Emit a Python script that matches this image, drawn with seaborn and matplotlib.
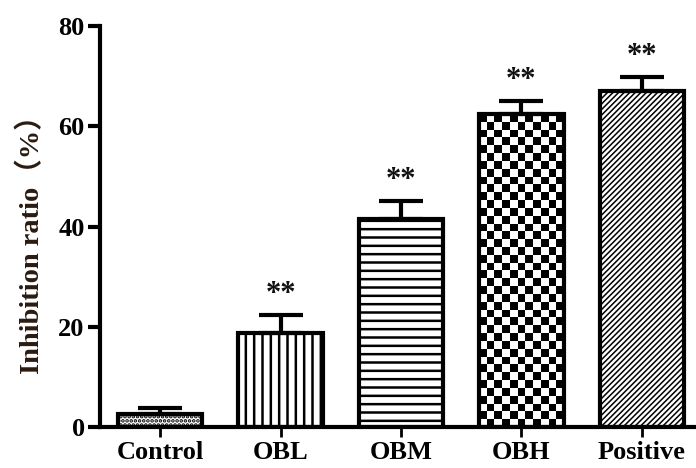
import numpy as np
import pandas as pd
import matplotlib
matplotlib.use("Agg")
import matplotlib.pyplot as plt
import seaborn as sns

groups = ["Control", "OBL", "OBM", "OBH", "Positive"]
values = [2.6, 18.8, 41.5, 62.4, 67.0]
errors = [1.2, 3.5, 3.6, 2.6, 2.9]
marks = ["", "**", "**", "**", "**"]
hatches = ["....", "||", "--", None, "//////"]
hatch_lw = [1.8, 1.8, 1.8, 1.8, 1.1]
yticks = [0, 20, 40, 60, 80]

sns.set_style("ticks")
plt.rcParams["font.family"] = ["Liberation Serif", "Noto Sans CJK SC"]
plt.rcParams["font.weight"] = "bold"
plt.rcParams["hatch.linewidth"] = 1.8
plt.rcParams["axes.edgecolor"] = "black"
plt.rcParams["xtick.color"] = "black"
plt.rcParams["ytick.color"] = "black"

df = pd.DataFrame({"group": groups, "value": values})

fig = plt.figure(figsize=(6.96, 4.68), dpi=100)
ax = fig.add_axes([100/696, 41/468, 596/696, 401/468])

sns.barplot(data=df, x="group", y="value", color="white", edgecolor="black",
            linewidth=3, width=0.7, errorbar=None, ax=ax, saturation=1)

patches = list(ax.patches)
for p, h, lw in zip(patches, hatches, hatch_lw):
    p.set_facecolor("white")
    if h:
        p.set_hatch(h)
        if hasattr(p, "set_hatch_linewidth"):
            p.set_hatch_linewidth(lw)

# checkerboard for OBH, clipped to its bar
p = patches[3]
x0, w = p.get_x(), p.get_width()
y0, hgt = p.get_y(), p.get_height()
nx, ny = 11, 40
board = (np.indices((ny, nx)).sum(axis=0) % 2).astype(float)
im = ax.imshow(board, cmap="gray", extent=[x0, x0 + w, y0, y0 + hgt],
               aspect="auto", interpolation="nearest", zorder=p.get_zorder() - 0.1)
im.set_clip_path(p)
p.set_zorder(p.get_zorder() + 0.2)
p.set_facecolor("none")

xs = np.arange(len(groups))
ax.errorbar(xs, values, yerr=[np.zeros(len(errors)), errors], fmt="none",
            ecolor="black", elinewidth=3, capsize=16, capthick=3, zorder=1)

for x, v, e, m in zip(xs, values, errors, marks):
    if m:
        ax.text(x, v + e + 1.2, m, ha="center", va="bottom", fontsize=22,
                fontweight="bold", color="#111111")

ax.set_ylim(0, 80)
ax.set_yticks(yticks)
ax.set_yticklabels([str(t) for t in yticks], fontsize=19, fontweight="bold")
ax.set_xticks(xs)
ax.set_xticklabels(groups, fontsize=19, fontweight="bold")
ax.set_xlabel("")
ax.set_ylabel("Inhibition ratio（%）", fontsize=20.5, fontweight="bold",
              color="#2a1a10")
ax.yaxis.set_label_coords(-0.092, 0.472)

for s in ["top", "right"]:
    ax.spines[s].set_visible(False)
for s in ["left", "bottom"]:
    ax.spines[s].set_linewidth(3)
ax.tick_params(axis="y", length=9, width=3, pad=2)
ax.tick_params(axis="x", length=7, width=2, pad=3)
ax.set_xlim(-0.5, 4.45)

fig.savefig("out.png", dpi=100)
